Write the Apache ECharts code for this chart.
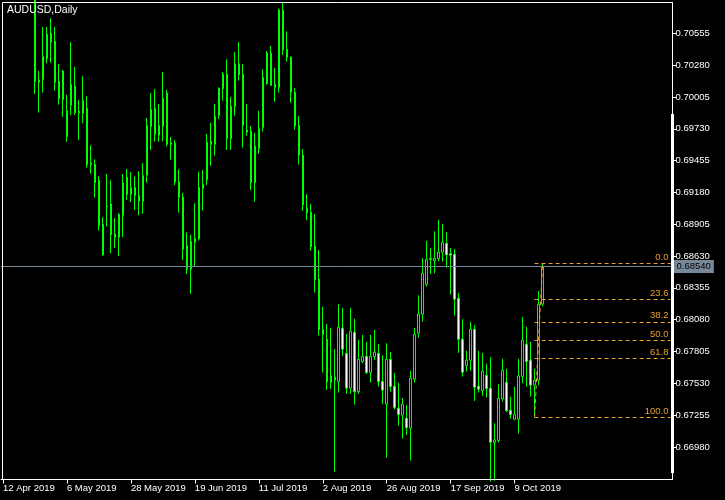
<!DOCTYPE html>
<html>
<head>
<meta charset="utf-8">
<script src="https://cdn.jsdelivr.net/npm/echarts@6/dist/echarts.min.js"></script>
<style>
html,body{margin:0;padding:0;background:#000;}
#chart{width:725px;height:500px;}
</style>
</head>
<body>
<div id="chart"></div>
<script>
// AUDUSD daily bars, 12 Apr 2019 .. 18 Oct 2019 (one entry per trading day)
const opens = [0.71470,0.71700,0.71620,0.71760,0.71900,0.71430,0.71410,0.71320,0.71200,0.70132,
0.70154,0.70336,0.70555,0.70486,0.70140,0.69981,0.69662,0.69933,0.70097,0.69880,
0.69864,0.69907,0.69434,0.69423,0.69285,0.68905,0.69060,0.69080,0.68821,0.68792,
0.68979,0.69311,0.69164,0.69223,0.69152,0.69102,0.69328,0.69748,0.69907,0.69674,
0.69748,0.70037,0.69596,0.69605,0.69273,0.69138,0.68720,0.68516,0.68749,0.68778,
0.69212,0.69288,0.69622,0.69596,0.69843,0.70076,0.70201,0.69644,0.69921,0.70290,
0.70201,0.69720,0.69708,0.69264,0.69558,0.69739,0.70120,0.70382,0.70114,0.70085,
0.70756,0.70417,0.70348,0.70045,0.69760,0.69501,0.69043,0.69008,0.68715,0.68430,
0.67998,0.67911,0.67536,0.67585,0.67545,0.68006,0.67790,0.67488,0.67972,0.67458,
0.67718,0.67764,0.67623,0.67761,0.67790,0.67545,0.67350,0.67738,0.67505,0.67315,
0.67255,0.67229,0.67142,0.67566,0.67963,0.68127,0.68386,0.68599,0.68590,0.68608,
0.68663,0.68741,0.68651,0.68646,0.68265,0.67911,0.67683,0.67730,0.67998,0.67505,
0.67467,0.67600,0.67488,0.67018,0.67035,0.67395,0.67540,0.67298,0.67220,0.67220,
0.67588,0.67868,0.67730,0.67514,0.67557,0.68214];
const highs = [0.71760,0.71730,0.71800,0.72070,0.71950,0.71470,0.71470,0.71400,0.71260,0.70229,
0.70609,0.70609,0.70685,0.70609,0.70290,0.70238,0.70022,0.70477,0.70264,0.69979,
0.70184,0.70011,0.69587,0.69466,0.69320,0.68965,0.69339,0.69285,0.68957,0.69000,
0.69339,0.69383,0.69357,0.69316,0.69363,0.69432,0.69823,0.70039,0.70074,0.69944,
0.70221,0.70065,0.69659,0.69631,0.69380,0.69175,0.68836,0.68812,0.69086,0.69357,
0.69374,0.69685,0.69780,0.69944,0.70088,0.70221,0.70330,0.70005,0.70393,0.70480,
0.70290,0.69944,0.69754,0.69694,0.69884,0.70244,0.70402,0.70445,0.70255,0.70768,
0.70820,0.70572,0.70356,0.70080,0.69840,0.69555,0.69164,0.69080,0.68994,0.68683,
0.68190,0.68043,0.68009,0.67827,0.68216,0.68182,0.67957,0.68182,0.68087,0.67905,
0.67948,0.67888,0.67948,0.67992,0.67868,0.67773,0.67877,0.67801,0.67620,0.67534,
0.67404,0.67341,0.67637,0.68009,0.68291,0.68611,0.68761,0.68697,0.68844,0.68942,
0.68907,0.68838,0.68700,0.68689,0.68311,0.68084,0.67810,0.68061,0.68035,0.67810,
0.67793,0.67700,0.67758,0.67185,0.67522,0.67741,0.67655,0.67415,0.67499,0.67741,
0.68104,0.68017,0.67888,0.67655,0.68328,0.68570];
const lows = [0.71410,0.71540,0.71530,0.71740,0.71370,0.71370,0.71290,0.71060,0.70031,0.69869,
0.70042,0.70296,0.70301,0.70059,0.69938,0.69834,0.69618,0.69847,0.69849,0.69633,
0.69777,0.69394,0.69342,0.69135,0.68850,0.68631,0.68884,0.68654,0.68700,0.68631,
0.68795,0.69115,0.69097,0.69028,0.68983,0.68996,0.69264,0.69547,0.69618,0.69618,
0.69622,0.69575,0.69463,0.69244,0.69005,0.68596,0.68475,0.68303,0.68538,0.68763,
0.69022,0.69244,0.69411,0.69497,0.69815,0.69973,0.69547,0.69547,0.69843,0.70146,
0.69567,0.69670,0.69201,0.69100,0.69515,0.69705,0.70111,0.70100,0.69964,0.70042,
0.70368,0.70310,0.69955,0.69722,0.69420,0.69022,0.68942,0.68677,0.68314,0.67942,
0.67623,0.67473,0.67482,0.66767,0.67450,0.67767,0.67439,0.67439,0.67346,0.67439,
0.67704,0.67611,0.67536,0.67730,0.67502,0.67352,0.66888,0.67458,0.67306,0.67165,
0.67052,0.67084,0.66862,0.67536,0.67925,0.68063,0.68366,0.68475,0.68481,0.68585,
0.68582,0.68530,0.68297,0.68115,0.67793,0.67588,0.67631,0.67640,0.67378,0.67450,
0.67421,0.67407,0.66680,0.66690,0.67018,0.67372,0.67283,0.67225,0.67214,0.67096,
0.67531,0.67502,0.67415,0.67238,0.67514,0.68193];
const closes = [0.71700,0.71620,0.71760,0.71900,0.71430,0.71410,0.71320,0.71200,0.70137,0.70151,
0.70356,0.70546,0.70477,0.70132,0.69990,0.70229,0.69890,0.70114,0.69869,0.69868,
0.69976,0.69420,0.69420,0.69264,0.68893,0.68640,0.69055,0.68815,0.68792,0.68991,
0.69262,0.69164,0.69221,0.69155,0.69104,0.69326,0.69760,0.69898,0.69682,0.69760,
0.69993,0.69596,0.69610,0.69273,0.69138,0.68689,0.68516,0.68758,0.68784,0.69224,
0.69250,0.69613,0.69596,0.69838,0.70080,0.70201,0.69644,0.69924,0.70290,0.70197,
0.69760,0.69702,0.69264,0.69581,0.69734,0.70175,0.70385,0.70106,0.70088,0.70756,
0.70411,0.70348,0.70045,0.69757,0.69501,0.69074,0.69005,0.68711,0.68426,0.67994,
0.67951,0.67545,0.67594,0.67557,0.68015,0.67825,0.67488,0.67980,0.67458,0.67738,
0.67764,0.67623,0.67764,0.67799,0.67545,0.67471,0.67738,0.67502,0.67320,0.67260,
0.67350,0.67147,0.67574,0.67954,0.68127,0.68481,0.68599,0.68611,0.68611,0.68663,
0.68749,0.68640,0.68637,0.68257,0.67911,0.67626,0.67730,0.67998,0.67496,0.67479,
0.67635,0.67484,0.67021,0.67041,0.67401,0.67643,0.67294,0.67260,0.67263,0.67594,
0.67903,0.67718,0.67514,0.67557,0.68214,0.68540];

// axis tick labels
const dateTickLabels = ['12 Apr 2019','6 May 2019','28 May 2019','19 Jun 2019','11 Jul 2019',
  '2 Aug 2019','26 Aug 2019','17 Sep 2019','9 Oct 2019'];
const priceTicks = [0.66980,0.67255,0.67530,0.67805,0.68080,0.68355,0.68630,0.68905,
  0.69180,0.69455,0.69730,0.70005,0.70280,0.70555];
const fibLevels = [0, 23.6, 38.2, 50, 61.8, 100];
const fibFromBar = 133, fibToBar = 135;

// layout / style
const BAR_STEP = 4, SLOTS = 168, TICK_EVERY = 16;
const FONT = 'Tahoma, "Liberation Sans", Arial, sans-serif';
const GREEN = '#00ff00', FIB = '#e8a030', PRICE = '#778899';

const cats = [];
for (let i = 0; i < SLOTS; i++) cats.push(String(i));
const candles = opens.map((o, i) => [o, closes[i], lows[i], highs[i]]);

const fibHigh = highs[fibToBar], fibLow = lows[fibFromBar];
const lastBar = SLOTS - 1;
const fibLineStyle = {color: FIB, type: [4, 3], width: 1};
const fibLabelStyle = {show: true, position: 'insideEndTop', distance: [2, 1], color: FIB, fontSize: 9.5, fontFamily: FONT};
const fibLines = fibLevels.map(l => {
  const v = fibHigh - (fibHigh - fibLow) * l / 100;
  return [{coord: [fibFromBar, v], lineStyle: fibLineStyle,
           label: Object.assign({}, fibLabelStyle, {formatter: l.toFixed(1)})},
          {coord: [lastBar, v]}];
});
fibLines.push([{coord: [fibFromBar, fibLow], lineStyle: fibLineStyle, label: {show: false}}, {coord: [fibToBar, fibHigh]}]);
const lastPrice = closes[closes.length - 1];

const tickFn = (idx) => idx % TICK_EVERY === 0 && idx / TICK_EVERY < dateTickLabels.length;

const chart = echarts.init(document.getElementById('chart'), null, {renderer: 'canvas'});
chart.setOption({
  animation: false,
  backgroundColor: '#000',
  textStyle: {fontFamily: FONT},
  title: {text: 'AUDUSD,Daily', left: 7, top: 5, padding: 0,
    textStyle: {color: '#fff', fontSize: 10.5, fontWeight: 'normal', fontFamily: FONT}},
  grid: {left: 0.5, top: 2.5, width: SLOTS * BAR_STEP, height: 477, containLabel: false},
  xAxis: {
    type: 'category', data: cats, boundaryGap: true,
    axisLine: {show: true, lineStyle: {color: '#fff', width: 1}},
    axisTick: {show: true, alignWithLabel: true, interval: tickFn, length: 4, lineStyle: {color: '#fff'}},
    axisLabel: {interval: tickFn, color: '#fff', fontSize: 9.5, fontFamily: FONT, align: 'left', margin: 4,
      formatter: (v, idx) => dateTickLabels[idx / TICK_EVERY] || ''},
    splitLine: {show: false}
  },
  yAxis: {
    type: 'value', position: 'right', min: 0.66699, max: 0.70821,
    axisLine: {show: true, lineStyle: {color: '#fff', width: 1}},
    axisTick: {show: true, length: 4, customValues: priceTicks, lineStyle: {color: '#fff'}},
    axisLabel: {customValues: priceTicks, color: '#fff', fontSize: 9.5, fontFamily: FONT, margin: 3,
      formatter: v => v.toFixed(5)},
    splitLine: {show: false}
  },
  graphic: [
    {type: 'rect', shape: {x: 2.5, y: 2.5, width: 670, height: 477}, style: {fill: null, stroke: '#fff', lineWidth: 1}, silent: true, z: 100},
    {type: 'rect', shape: {x: 671, y: 114, width: 3, height: 359}, style: {fill: '#fff'}, silent: true, z: 100}
  ],
  series: [{
    type: 'candlestick',
    data: candles,
    barWidth: 2,
    clip: true,
    z: 3,
    itemStyle: {color: '#000', color0: '#fff', borderColor: GREEN, borderColor0: GREEN, borderWidth: 1}
  }, {
    type: 'line',
    data: closes,
    showSymbol: false,
    symbol: 'none',
    silent: true,
    z: 2,
    lineStyle: {opacity: 0, width: 0},
    markLine: {
      silent: true, symbol: ['none', 'none'], animation: false, precision: 5,
      lineStyle: fibLineStyle,
      label: fibLabelStyle,
      data: [
        {yAxis: lastPrice, lineStyle: {color: PRICE, type: 'solid', width: 1},
          label: {show: true, position: 'end', distance: 1, formatter: lastPrice.toFixed(5),
            backgroundColor: PRICE, color: '#000', fontSize: 9.5, fontFamily: FONT, padding: [2, 3, 1, 3]}},
        ...fibLines
      ]
    }
  }]
});
</script>
</body>
</html>
